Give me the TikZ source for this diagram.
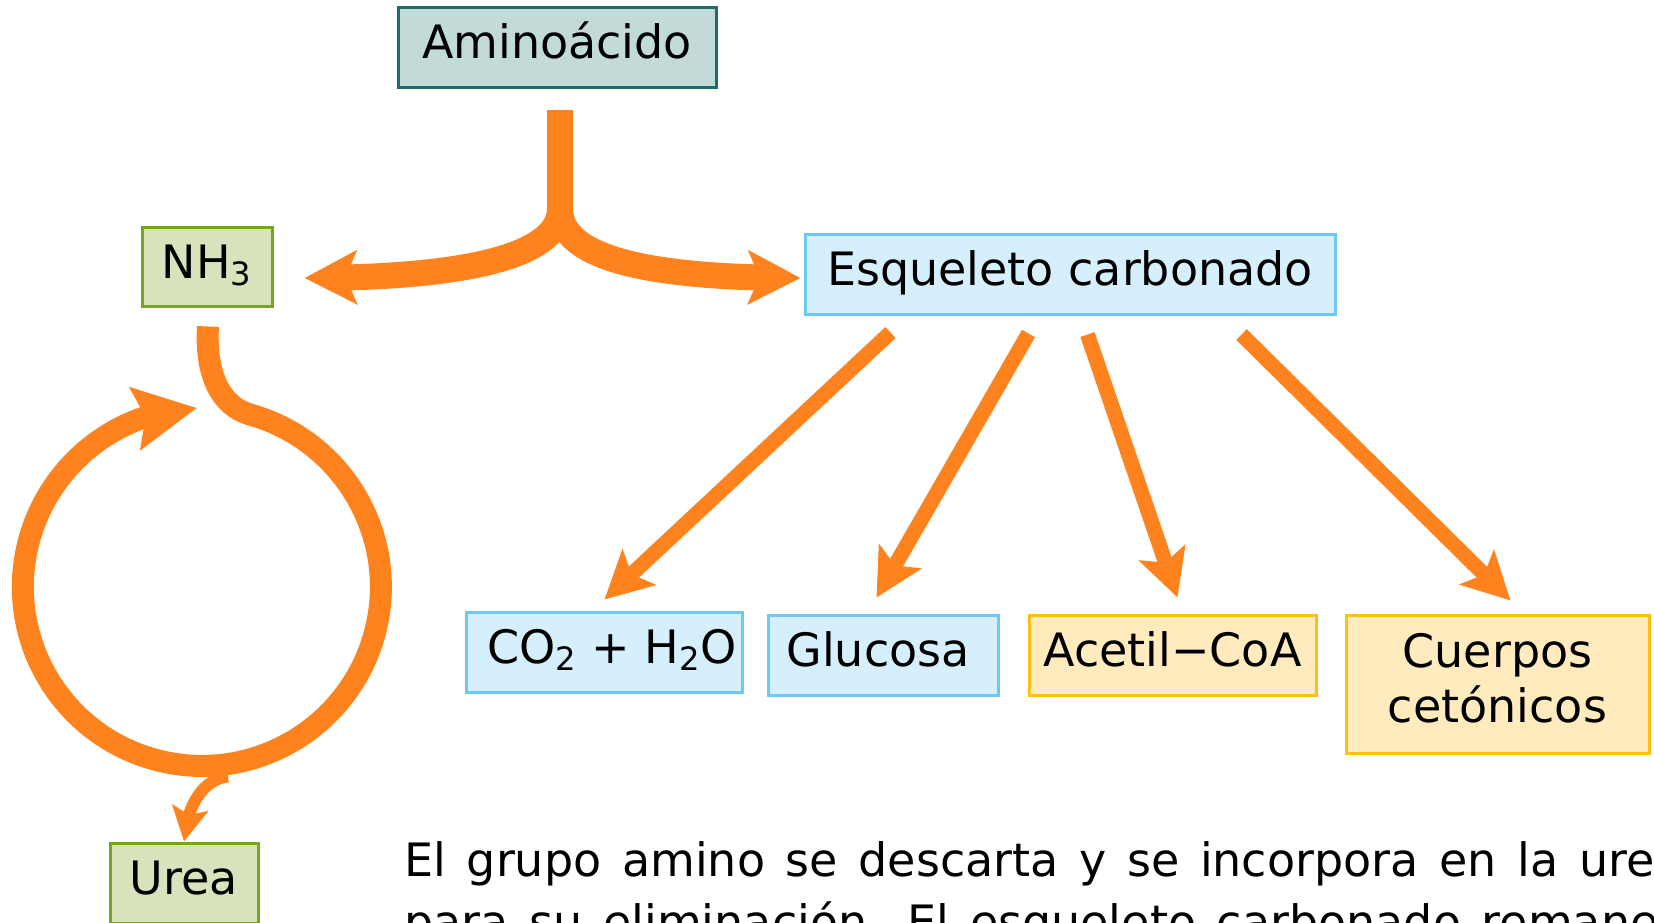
\documentclass[tikz,border=0pt]{standalone}
\usepackage{fontspec}
\setmainfont{DejaVu Sans}
\usetikzlibrary{arrows.meta,bending,calc}
\definecolor{orng}{RGB}{254,131,30}
\definecolor{tealf}{RGB}{194,219,216}
\definecolor{tealb}{RGB}{28,108,106}
\definecolor{greenf}{RGB}{214,227,188}
\definecolor{greenb}{RGB}{119,164,37}
\definecolor{bluef}{RGB}{214,239,252}
\definecolor{blueb}{RGB}{110,200,245}
\definecolor{yelf}{RGB}{255,235,190}
\definecolor{yelb}{RGB}{255,192,20}
\newcommand{\bigfont}{\fontsize{23pt}{27.6pt}\selectfont}
\begin{document}
\begin{tikzpicture}[x=0.5pt,y=-0.5pt,
  box/.style={draw, line width=1.5pt, inner sep=0pt, font=\bigfont,
    text height=17.25pt, text depth=5.75pt, minimum height=40pt},
  tealbox/.style={box, draw=tealb, fill=tealf},
  greenbox/.style={box, draw=greenb, fill=greenf},
  bluebox/.style={box, draw=blueb, fill=bluef},
  yelbox/.style={box, draw=yelb, fill=yelf},
  fat/.style={draw=orng, line width=13pt,
    -{Stealth[length=26pt,width=26.5pt,inset=5.5pt]}},
  cyc/.style={draw=orng, line width=11pt,
    -{Stealth[length=31pt,width=31pt,inset=5pt]}},
  thinarr/.style={draw=orng, line width=6pt,
    -{Stealth[length=17pt,width=18pt,inset=3.5pt]}},
  diag/.style={draw=orng, line width=7.5pt,
    -{Stealth[length=23.5pt,width=24pt,inset=5pt]}},
  plain/.style={font=\bigfont, inner sep=0pt}
]
\useasboundingbox (0,0) rectangle (1654,922);
\clip (0,0) rectangle (1654,922);

% nodes
\node[tealbox, minimum width=159pt] (amino) at (557,47) {Aminoácido};
\node[greenbox, minimum width=65pt, minimum height=39.5pt] (nh3) at (207,266.5) {NH\textsubscript{3}};
\node[greenbox, minimum width=74pt] (urea) at (184,883) {Urea};
\node[bluebox, minimum width=265pt] (esq) at (1070,274) {Esqueleto carbonado};
\node[bluebox, minimum width=138pt] (co2) at (604,652) {\hspace*{8pt}CO\textsubscript{2} + H\textsubscript{2}O};
\node[bluebox, minimum width=115pt] (glu) at (883,655) {Glucosa\hspace*{5pt}};
\node[yelbox, minimum width=143.5pt] (acet) at (1172.5,655) {Acetil−CoA};
\node[yelbox, minimum width=151.5pt, minimum height=69pt] (cuer) at (1497.5,684) {};
\node[plain, align=center] (cuertxt) at ($(cuer.center)+(0,-6)$) {Cuerpos\\cetónicos};

% fork from Aminoacido
\coordinate (fk) at ($(amino.south)+(3,21)$);
\coordinate (jn) at ($(fk)+(0,99)$);
\coordinate (lt) at ($(nh3.east)+(31,11.5)$);
\coordinate (rt) at ($(esq.west)+(-3,4)$);
\draw[orng, line width=13pt] (fk) -- ($(jn)+(0,8)$);
\draw[fat] (jn) .. controls +(0,48) and +(160,0) .. (lt);
\draw[fat] (jn) .. controls +(0,48) and +(-160,0) .. (rt);

% urea cycle
\coordinate (c0) at ($(nh3.south)+(1,19)$);
\draw[cyc] (c0) .. controls +(-3,50) and +(-28,-8) .. ++(42,88)
   arc[start angle=74.4, end angle=-268.4, radius=89.5pt];
\coordinate (u0) at ($(urea.north)+(44,-65)$);
\draw[thinarr] (u0) .. controls +(-22,2) and +(3,-40) .. (urea.north);

% products of carbon skeleton
\draw[diag] ($(esq.south west)+(87,17)$) -- ($(co2.north west)+(140,-11)$);
\draw[diag] ($(esq.south west)+(225,18)$) -- ($(glu.north west)+(110,-16)$);
\draw[diag] ($(esq.south west)+(284,19)$) -- ($(acet.north west)+(150,-16)$);
\draw[diag] ($(esq.south west)+(438,19)$) -- ($(cuer.north west)+(166,-13)$);

% caption text
\node[plain, anchor=base west] (txt1) at (404,876)
  {\spaceskip=10.3pt plus 2pt\relax El grupo amino se descarta y se incorpora en la urea};
\node[plain, anchor=base west] (txt2) at (404,938)
  {\spaceskip=10.3pt plus 2pt\relax para su eliminación. El esqueleto carbonado remanente};
\end{tikzpicture}
\end{document}
